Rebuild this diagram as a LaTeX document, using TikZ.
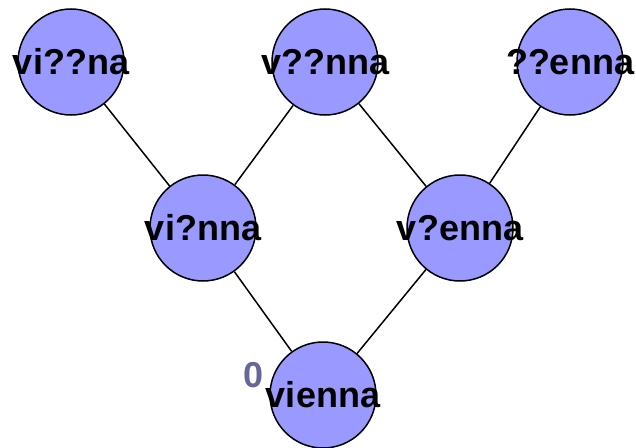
\documentclass[tikz,border=0pt]{standalone}
\usepackage{fontspec}
\setmainfont{Liberation Sans}
\begin{document}
\begin{tikzpicture}[x=1pt,y=-1pt,
  bigtext/.style={font=\fontsize{36}{36}\selectfont\bfseries},
  word/.style={circle,draw=black,line width=1.5pt,fill=nodefill,minimum size=106pt,inner sep=0pt,
    label={[bigtext,text=black,inner sep=0pt]center:#1}},
  link/.style={draw=black,line width=1.5pt}]
\definecolor{nodefill}{HTML}{9999FF}
\definecolor{distcol}{HTML}{666699}
\useasboundingbox (0,0) rectangle (636,447);
\node[word={vi??na}] (a) at (71,62) {};
\node[word={v??nna}] (b) at (325,62) {};
\node[word={??enna}] (c) at (570,62) {};
\node[word={vi?nna}] (d) at (203,228) {};
\node[word={v?enna}] (e) at (460,228) {};
\node[word={vienna}] (f) at (323,395) {};
\node[bigtext,text=distcol,inner sep=0pt] (z) at (254,375) {0};
\path[link] (a) -- (d);
\path[link] (b) -- (d);
\path[link] (b) -- (e);
\path[link] (c) -- (e);
\path[link] (d) -- (f);
\path[link] (e) -- (f);
\end{tikzpicture}
\end{document}
